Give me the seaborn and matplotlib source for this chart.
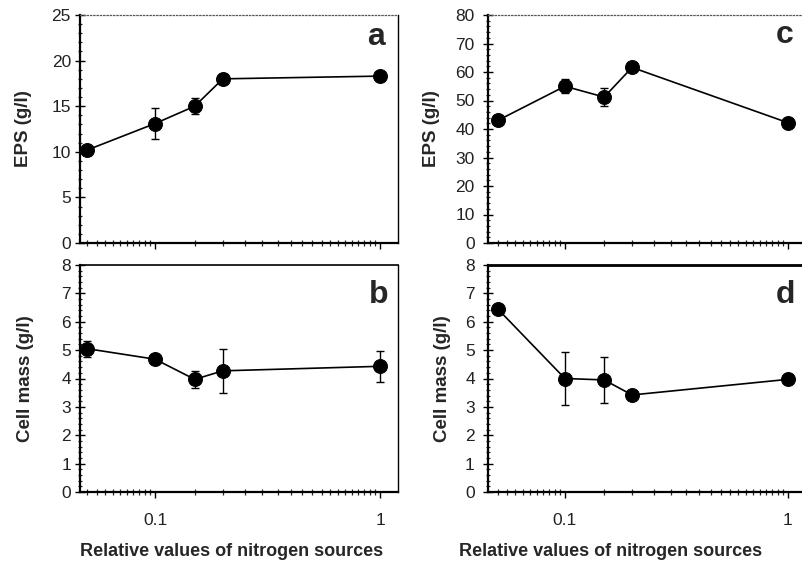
import numpy as np
import pandas as pd
import matplotlib
matplotlib.use("Agg")
import matplotlib.pyplot as plt
import matplotlib.ticker as mticker
import seaborn as sns

# Du lieu doc tu hinh
nitrogen = [0.05, 0.1, 0.15, 0.2, 1.0]

eps_a = [10.2, 13.1, 15.0, 18.0, 18.3]
eps_a_err = [0.2, 1.75, 0.85, 0.5, 0.3]

cell_b = [5.05, 4.68, 3.97, 4.27, 4.43]
cell_b_err = [0.28, 0.1, 0.3, 0.77, 0.55]

eps_c = [43.0, 55.0, 51.2, 61.6, 42.2]
eps_c_err = [1.0, 2.5, 3.2, 1.0, 1.0]

cell_d = [6.45, 4.0, 3.95, 3.42, 3.97]
cell_d_err = [0.1, 0.95, 0.8, 0.08, 0.15]

sns.set_style("ticks")
plt.rcParams['font.family'] = ['Liberation Sans', 'DejaVu Sans']

fig = plt.figure(figsize=(8.03, 5.64), dpi=100)

W, H = 803, 564

def make_ax(x0, x1, y0, y1):
    return fig.add_axes([x0 / W, (H - y1) / H, (x1 - x0) / W, (y1 - y0) / H])

ax_a = make_ax(80, 398, 15, 243)
ax_b = make_ax(80, 398, 265, 492)
ax_c = make_ax(488, 806, 15, 243)
ax_d = make_ax(488, 806, 265, 492)

panels = [
    (ax_a, eps_a, eps_a_err, 25, 'a', 'EPS (g/l)', True),
    (ax_b, cell_b, cell_b_err, 8, 'b', 'Cell mass (g/l)', False),
    (ax_c, eps_c, eps_c_err, 80, 'c', 'EPS (g/l)', True),
    (ax_d, cell_d, cell_d_err, 8, 'd', 'Cell mass (g/l)', False),
]

letter_pos = {'a': (0.93, 0.868), 'b': (0.94, 0.833), 'c': (0.934, 0.877), 'd': (0.934, 0.833)}
ylab_x = {'a': -0.15, 'b': -0.145, 'c': -0.15, 'd': -0.115}

for ax, vals, errs, ymax, letter, ylab, top in panels:
    df = pd.DataFrame({'x': nitrogen, 'y': vals})
    ax.errorbar(nitrogen, vals, yerr=errs, fmt='none', ecolor='black',
                elinewidth=1.0, capsize=3, capthick=1.0, zorder=2)
    sns.lineplot(data=df, x='x', y='y', ax=ax, color='black', linewidth=1.2,
                 marker='o', markersize=10, markeredgecolor='black',
                 markerfacecolor='black', zorder=3)

    ax.set_xscale('log')
    if ax in (ax_a, ax_b):
        ax.set_xlim(0.0464, 1.2)
    else:
        ax.set_xlim(0.0452, 1.205)
    ax.set_ylim(0, ymax)

    ax.xaxis.set_major_locator(mticker.FixedLocator([0.1, 1]))
    ax.xaxis.set_major_formatter(mticker.FixedFormatter(['0.1', '1']))
    ax.xaxis.set_minor_locator(mticker.LogLocator(base=10, subs=np.arange(1, 10, 0.5), numticks=20))
    ax.xaxis.set_minor_formatter(mticker.NullFormatter())

    step = {25: 5, 80: 10, 8: 1}[ymax]
    ax.yaxis.set_major_locator(mticker.MultipleLocator(step))
    ax.yaxis.set_minor_locator(mticker.AutoMinorLocator(5))

    ax.tick_params(axis='x', which='major', direction='out', length=4, width=1.0,
                   labelsize=12.5, pad=11, top=False)
    ax.tick_params(axis='x', which='minor', direction='inout', length=4, width=0.9, top=False)
    ax.tick_params(axis='y', which='major', direction='inout', length=7, width=1.0,
                   labelsize=12.5, pad=3 if ax in (ax_a, ax_b) else 6, right=False)
    ax.tick_params(axis='y', which='minor', direction='inout', length=3.5, width=0.9, right=False)

    if top:
        ax.tick_params(axis='x', which='major', labelbottom=False)
        ax.set_xlabel('')
        ax.spines['top'].set_linestyle(':')
        ax.spines['top'].set_color('#555555')
        ax.spines['top'].set_linewidth(0.9)
    else:
        ax.set_xlabel('Relative values of nitrogen sources', fontsize=13, fontweight='bold')
        ax.xaxis.set_label_coords(0.478 if ax is ax_b else 0.384, -0.225)
        ax.xaxis.label.set_va('top')
        ax.spines['top'].set_linewidth(1.2 if ax is ax_b else 2.0)
        ax.spines['top'].set_color('black')

    ax.spines['left'].set_linewidth(1.6)
    ax.spines['bottom'].set_linewidth(1.6)
    ax.spines['right'].set_linewidth(1.0)
    for s in ('left', 'bottom', 'right'):
        ax.spines[s].set_color('black')

    ax.set_ylabel(ylab, fontsize=13.5, fontweight='bold')
    ax.yaxis.set_label_coords(ylab_x[letter], 0.5)

    lx, ly = letter_pos[letter]
    ax.text(lx, ly, letter, transform=ax.transAxes, fontsize=23, fontweight='bold',
            ha='center', va='baseline')

    ax.tick_params(colors='black')
    for lab in ax.get_xticklabels() + ax.get_yticklabels():
        lab.set_color('#222222')

fig.savefig('out.png', dpi=100)
